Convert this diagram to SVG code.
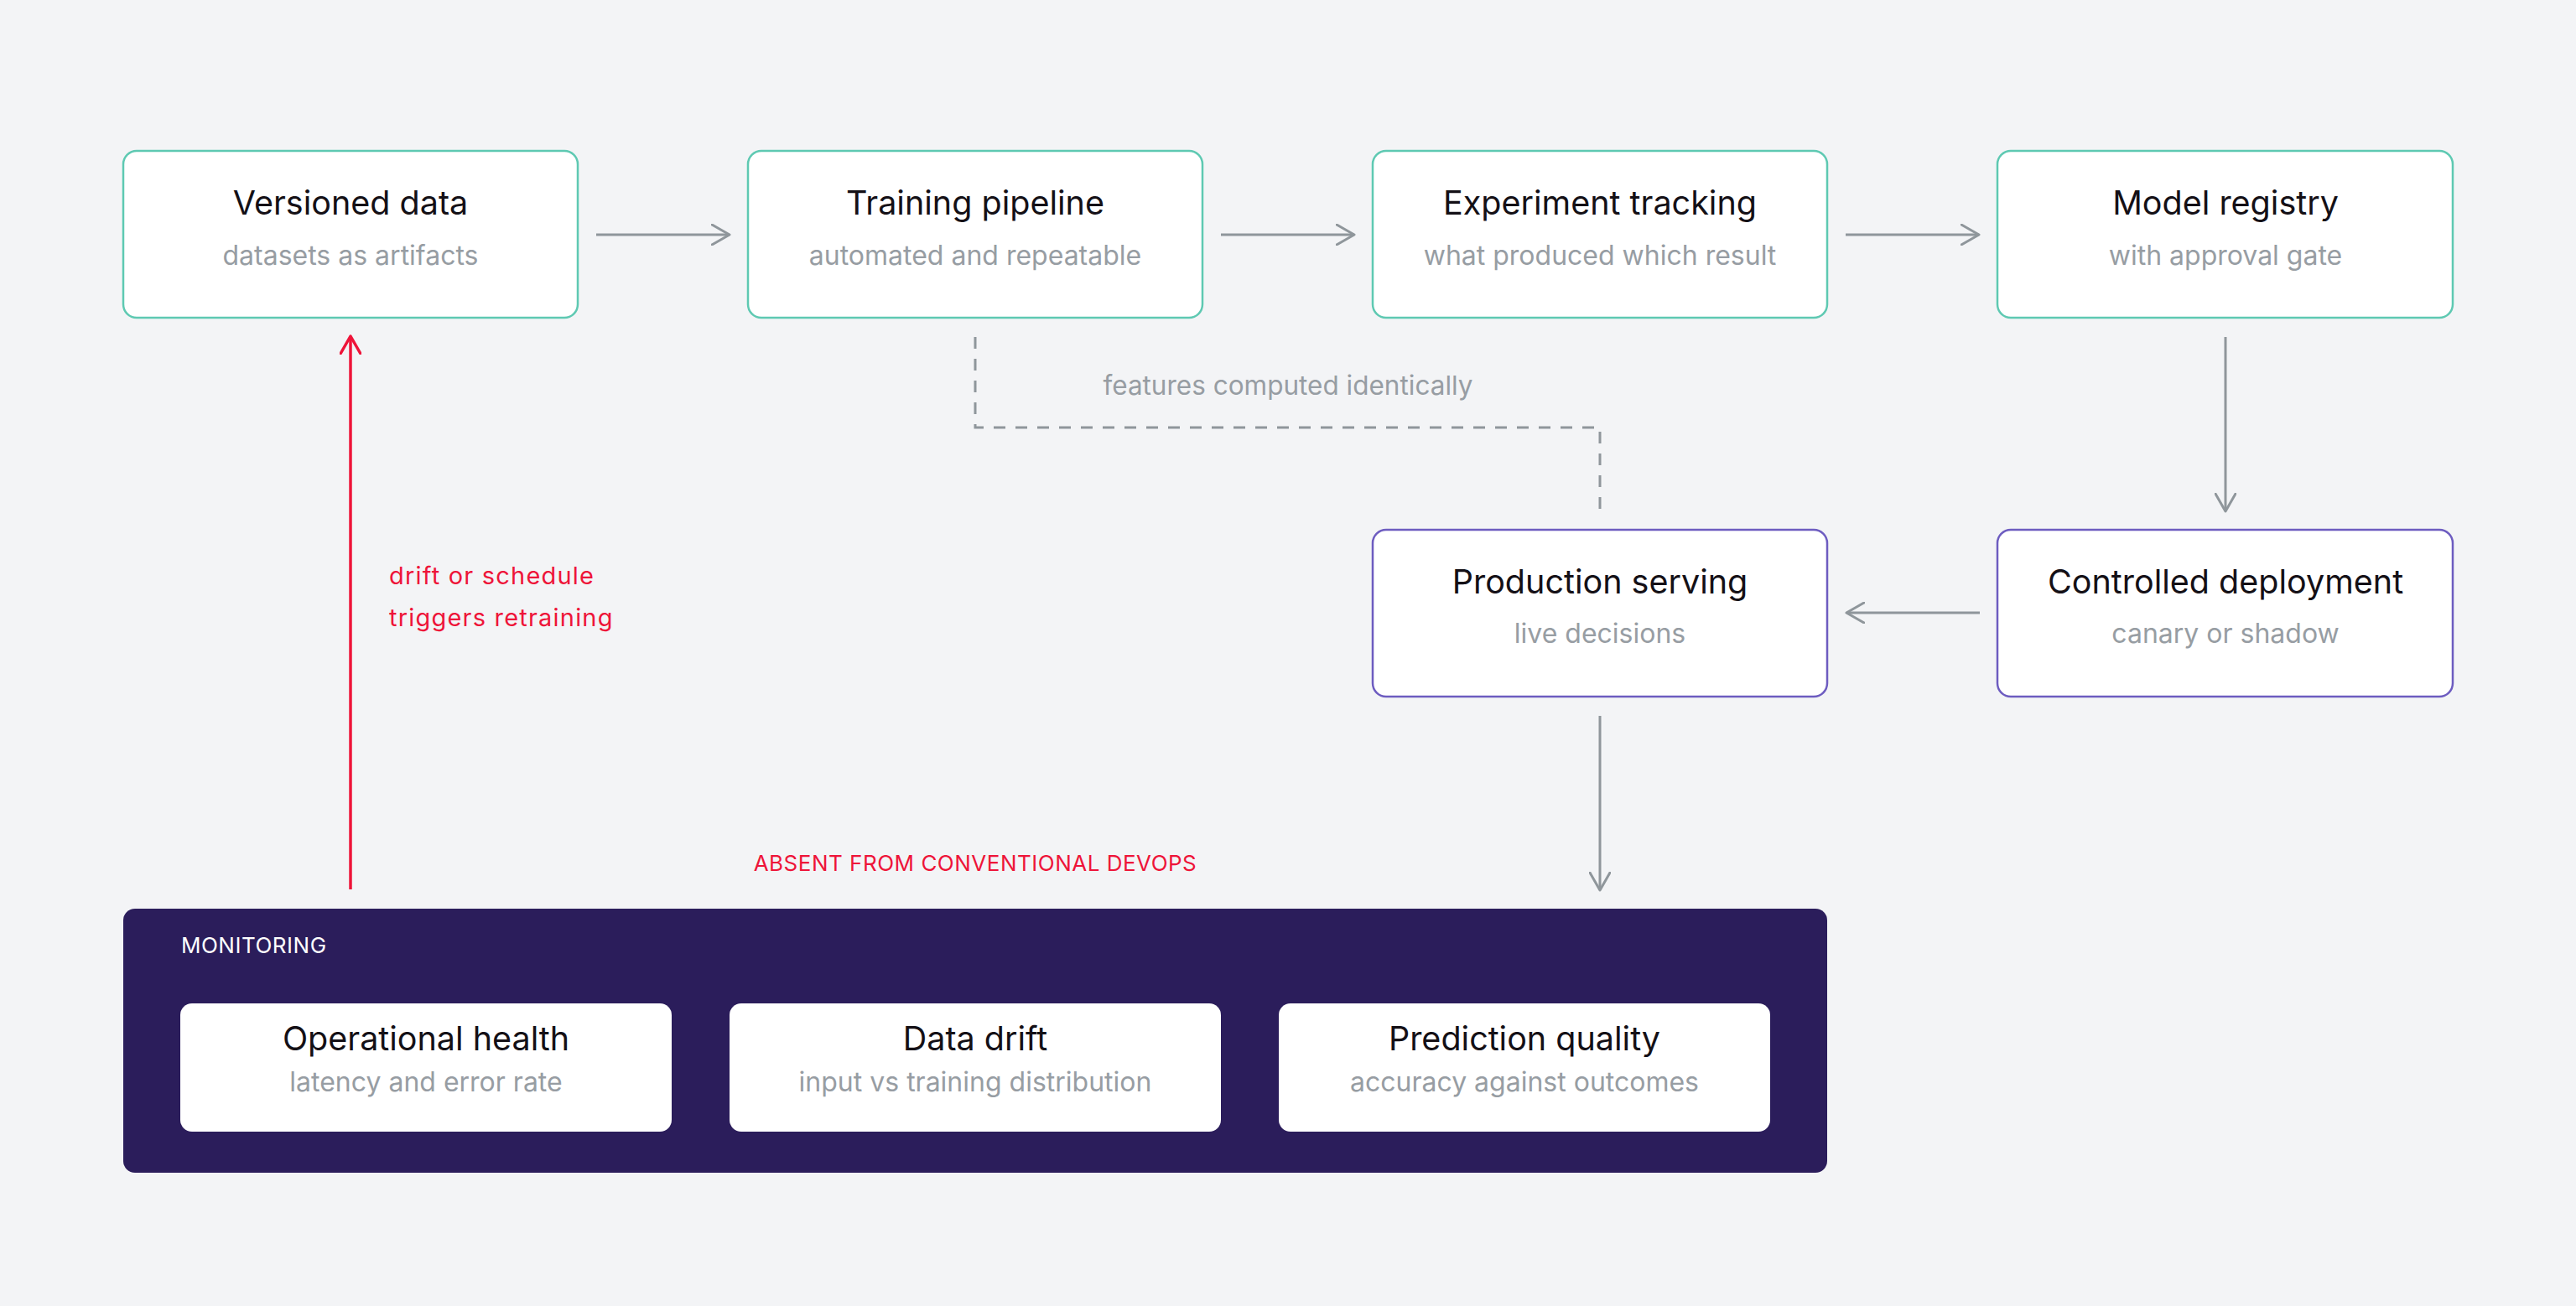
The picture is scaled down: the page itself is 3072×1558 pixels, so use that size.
<svg xmlns="http://www.w3.org/2000/svg" width="3072" height="1558" viewBox="0 0 3072 1558">
<defs>
<style>
.bg{fill:#f3f4f6}
.box{fill:#ffffff;stroke-width:2.5}
.teal{stroke:#5ec9b2}
.purple{stroke:#6d5cc0}
.title{font-family:Inter,"Liberation Sans",sans-serif;font-size:39.5px;fill:#141016;text-anchor:middle}
.sub{font-family:Inter,"Liberation Sans",sans-serif;font-size:32px;fill:#979da3;text-anchor:middle}
.conn{fill:none;stroke:#8f969b;stroke-width:3}
.dash{fill:none;stroke:#8f969b;stroke-width:3;stroke-dasharray:14 12}
.red{fill:none;stroke:#ee1439;stroke-width:3.5}
.lbl{font-family:Inter,"Liberation Sans",sans-serif;font-size:31.5px;fill:#979da3}
.redlbl{font-family:Inter,"Liberation Sans",sans-serif;font-size:29px;fill:#ee1439;letter-spacing:1.2px}
.caps{font-family:Inter,"Liberation Sans",sans-serif;font-size:26px;letter-spacing:0.5px}
</style>
<marker id="ag" viewBox="0 0 24 26" refX="22" refY="13" markerWidth="24" markerHeight="26" markerUnits="userSpaceOnUse" orient="auto">
<path d="M1,1 L22,13 L1,25" fill="none" stroke="#8f969b" stroke-width="3" stroke-linecap="round" stroke-linejoin="round"/>
</marker>
<marker id="ar" viewBox="0 0 24 26" refX="22" refY="13" markerWidth="24" markerHeight="26" markerUnits="userSpaceOnUse" orient="auto">
<path d="M1,1 L22,13 L1,25" fill="none" stroke="#ee1439" stroke-width="3.5" stroke-linecap="round" stroke-linejoin="round"/>
</marker>
</defs>
<rect class="bg" x="0" y="0" width="3072" height="1558"/>

<g id="connectors">
<line class="conn" x1="711" y1="280" x2="870" y2="280" marker-end="url(#ag)"/>
<line class="conn" x1="1456" y1="280" x2="1615" y2="280" marker-end="url(#ag)"/>
<line class="conn" x1="2201" y1="280" x2="2360" y2="280" marker-end="url(#ag)"/>
<line class="conn" x1="2654" y1="402" x2="2654" y2="610" marker-end="url(#ag)"/>
<line class="conn" x1="2361" y1="731" x2="2202" y2="731" marker-end="url(#ag)"/>
<line class="conn" x1="1908" y1="854" x2="1908" y2="1062" marker-end="url(#ag)"/>
<path class="dash" d="M1163,402 V510 H1908 V608"/>
<text class="lbl" x="1536" y="471" text-anchor="middle">features computed identically</text>
<line class="red" x1="418" y1="1061" x2="418" y2="401" marker-end="url(#ar)"/>
<text class="redlbl" x="464" y="697">drift or schedule</text>
<text class="redlbl" x="464" y="747">triggers retraining</text>
<text class="caps" x="1163" y="1039" text-anchor="middle" fill="#ee1439">ABSENT FROM CONVENTIONAL DEVOPS</text>
</g>

<g id="versioned-data">
<rect class="box teal" x="147" y="180" width="542" height="199" rx="16"/>
<text class="title" x="418" y="256">Versioned data</text>
<text class="sub" x="418" y="316">datasets as artifacts</text>
</g>
<g id="training-pipeline">
<rect class="box teal" x="892" y="180" width="542" height="199" rx="16"/>
<text class="title" x="1163" y="256">Training pipeline</text>
<text class="sub" x="1163" y="316">automated and repeatable</text>
</g>
<g id="experiment-tracking">
<rect class="box teal" x="1637" y="180" width="542" height="199" rx="16"/>
<text class="title" x="1908" y="256">Experiment tracking</text>
<text class="sub" x="1908" y="316">what produced which result</text>
</g>
<g id="model-registry">
<rect class="box teal" x="2382" y="180" width="543" height="199" rx="16"/>
<text class="title" x="2654" y="256">Model registry</text>
<text class="sub" x="2654" y="316">with approval gate</text>
</g>
<g id="production-serving">
<rect class="box purple" x="1637" y="632" width="542" height="199" rx="16"/>
<text class="title" x="1908" y="708">Production serving</text>
<text class="sub" x="1908" y="767">live decisions</text>
</g>
<g id="controlled-deployment">
<rect class="box purple" x="2382" y="632" width="543" height="199" rx="16"/>
<text class="title" x="2654" y="708">Controlled deployment</text>
<text class="sub" x="2654" y="767">canary or shadow</text>
</g>

<g id="monitoring">
<rect x="147" y="1084" width="2032" height="315" rx="14" fill="#2b1d5b"/>
<text class="caps" x="216" y="1137" fill="#ffffff">MONITORING</text>
<g id="operational-health">
<rect x="215" y="1197" width="586" height="153" rx="14" fill="#ffffff"/>
<text class="title" x="508" y="1253">Operational health</text>
<text class="sub" x="508" y="1302">latency and error rate</text>
</g>
<g id="data-drift">
<rect x="870" y="1197" width="586" height="153" rx="14" fill="#ffffff"/>
<text class="title" x="1163" y="1253">Data drift</text>
<text class="sub" x="1163" y="1302">input vs training distribution</text>
</g>
<g id="prediction-quality">
<rect x="1525" y="1197" width="586" height="153" rx="14" fill="#ffffff"/>
<text class="title" x="1818" y="1253">Prediction quality</text>
<text class="sub" x="1818" y="1302">accuracy against outcomes</text>
</g>
</g>
</svg>
